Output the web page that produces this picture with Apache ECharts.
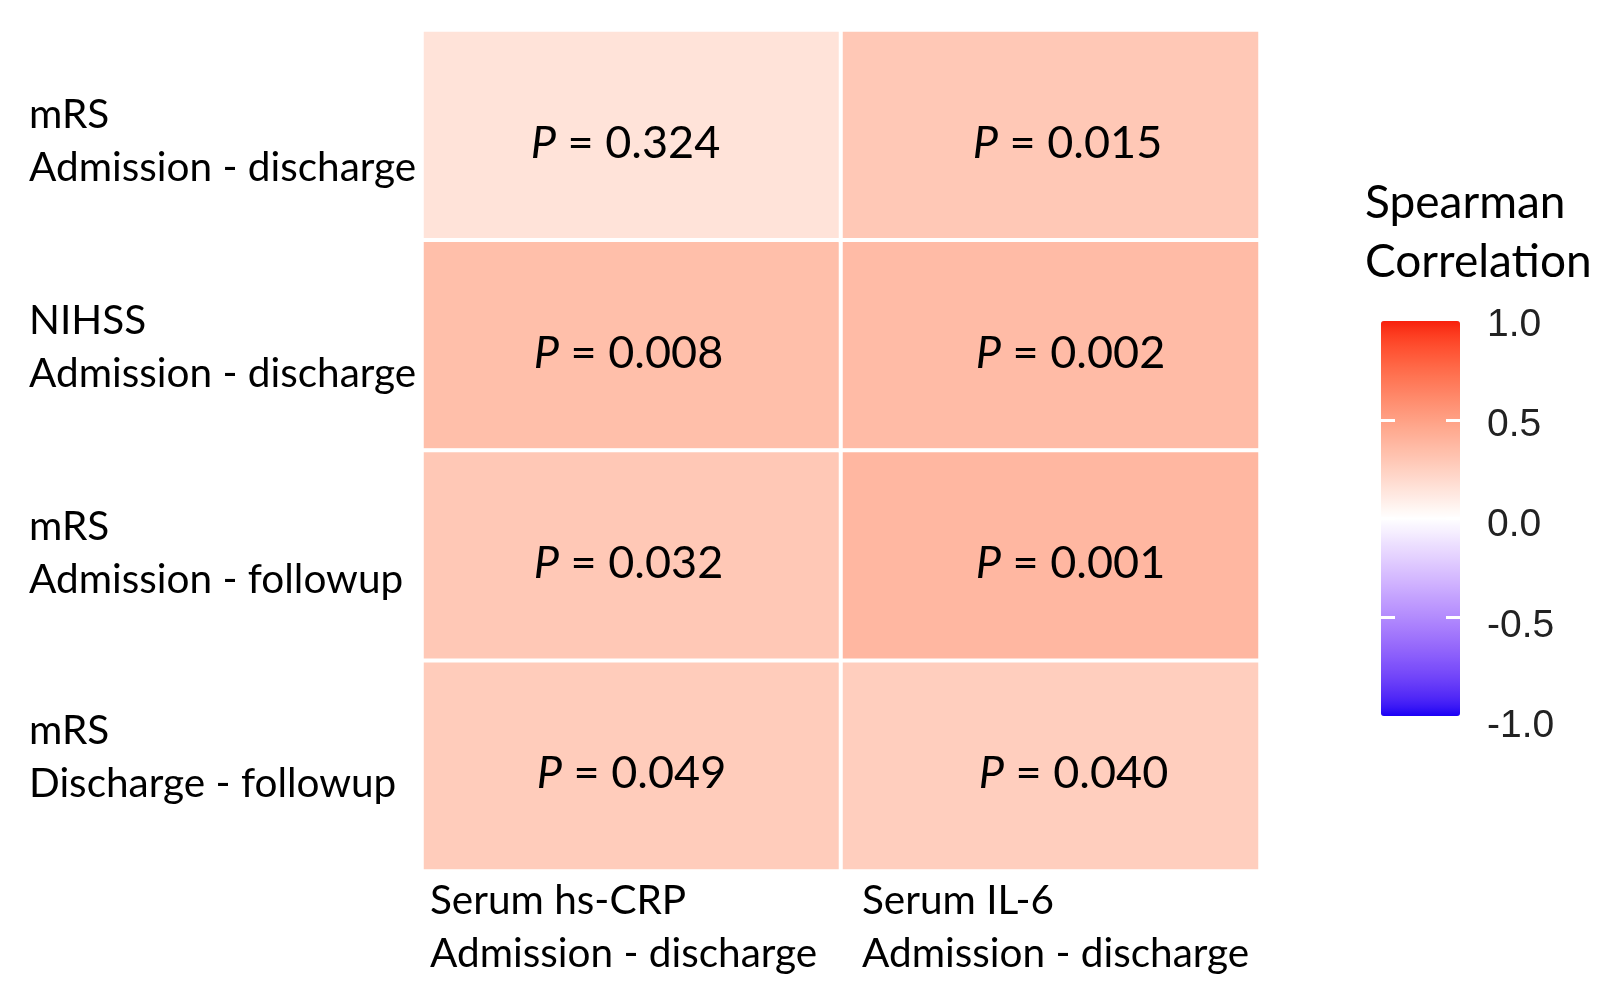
<!DOCTYPE html>
<html><head><meta charset="utf-8">
<script src="https://cdn.jsdelivr.net/npm/echarts@6/dist/echarts.min.js"></script>
<style>html,body{margin:0;padding:0;background:#fff}#c{width:1600px;height:987px}</style>
</head><body><div id="c"></div>
<script>
// ---- data ----
const xCategories = ['Serum hs-CRP\nAdmission - discharge', 'Serum IL-6\nAdmission - discharge'];
const yCategories = ['mRS\nAdmission - discharge', 'NIHSS\nAdmission - discharge', 'mRS\nAdmission - followup', 'mRS\nDischarge - followup'];
const corrHsCRP = [0.15, 0.34, 0.29, 0.27];
const corrIL6 = [0.29, 0.36, 0.38, 0.26];
const pHsCRP = ['0.324', '0.008', '0.032', '0.049'];
const pIL6 = ['0.015', '0.002', '0.001', '0.040'];
const legendTickValues = [-1, -0.5, 0, 0.5, 1];
const legendTitle = 'Spearman\nCorrelation';

// ---- colour scale (Lab interpolation like ggplot2 gradient2) ----
function srgb2lin(c){c/=255;return c<=0.04045?c/12.92:Math.pow((c+0.055)/1.055,2.4);}
function lin2srgb(c){c=Math.max(0,Math.min(1,c));return Math.round(255*(c<=0.0031308?12.92*c:1.055*Math.pow(c,1/2.4)-0.055));}
function hex2lab(h){
  const rgb=[1,3,5].map(i=>srgb2lin(parseInt(h.substr(i,2),16)));
  const [r,g,b]=rgb;
  const X=(0.4124*r+0.3576*g+0.1805*b)/0.95047, Y=0.2126*r+0.7152*g+0.0722*b, Z=(0.0193*r+0.1192*g+0.9505*b)/1.08883;
  const f=t=>t>0.008856?Math.cbrt(t):7.787*t+16/116;
  const fx=f(X),fy=f(Y),fz=f(Z);
  return [116*fy-16,500*(fx-fy),200*(fy-fz)];
}
function lab2hex(lab){
  const [L,a,b]=lab;const fy=(L+16)/116,fx=fy+a/500,fz=fy-b/200;
  const fi=t=>t>0.206893?t*t*t:(t-16/116)/7.787;
  const X=fi(fx)*0.95047,Y=fi(fy),Z=fi(fz)*1.08883;
  const r=3.2406*X-1.5372*Y-0.4986*Z, g=-0.9689*X+1.8758*Y+0.0415*Z, bb=0.0557*X-0.2040*Y+1.0570*Z;
  return '#'+[r,g,bb].map(v=>lin2srgb(v).toString(16).padStart(2,'0')).join('');
}
function ramp(c1,c2,n){
  const A=hex2lab(c1),B=hex2lab(c2),out=[];
  for(let i=0;i<n;i++){const t=i/(n-1);out.push(lab2hex([0,1,2].map(k=>A[k]+(B[k]-A[k])*t)));}
  return out;
}
const lowCol='#1a00f5', midCol='#ffffff', highCol='#f8200c';
const stops = ramp(lowCol,midCol,21).concat(ramp(midCol,highCol,21).slice(1));

// ---- label placement tweaks (styling only) ----
const colOffsets = [-6, 17];
const rowShift = [0, 3, 3, 6];
const yLabelShift = [6, 2, -2, -8];
const FONT = 'Lato';
const yRich = {};
yLabelShift.forEach((d,i)=>{
  yRich['r'+i] = {fontFamily:FONT, fontSize:40.5, lineHeight:53, color:'#000',
    padding: d>=0 ? [2*d,0,0,0] : [0,0,-2*d,0]};
});

// ---- series data ----
const heatData = [];
const pLabels = [pHsCRP, pIL6];
const corrs = [corrHsCRP, corrIL6];
for (let xi=0; xi<xCategories.length; xi++){
  for (let yi=0; yi<yCategories.length; yi++){
    heatData.push({value:[xi, yi, corrs[xi][yi]], p: pLabels[xi][yi],
      label:{offset:[colOffsets[xi]+rowShift[yi], 8]}});
  }
}

const chart = echarts.init(document.getElementById('c'), null, {renderer:'canvas'});
chart.setOption({
  backgroundColor:'#ffffff',
  animation:false,
  title:{
    text: legendTitle, left:1360, top:169, padding:5,
    textStyle:{fontFamily:FONT, fontSize:46, lineHeight:59, fontWeight:'normal', color:'#000'}
  },
  grid:[
    {left:422, top:30, width:838, height:841},
    {left:1381, top:321, width:79, height:395},
    {left:1381, top:325, width:79, height:401}
  ],
  xAxis:[
    {type:'category', gridIndex:0, data:xCategories, axisLine:{show:false}, axisTick:{show:false}, axisLabel:{show:false}, splitLine:{show:false}},
    {type:'category', gridIndex:0, data:xCategories.concat(['']), boundaryGap:false, position:'bottom',
      axisLine:{show:false}, axisTick:{show:false}, splitLine:{show:false},
      axisLabel:{interval:0, align:'left', verticalAlign:'top', margin:3,
        formatter:(v,i)=>v?('{c'+i+'|'+v+'}'):'',
        rich:{
          c0:{fontFamily:FONT, fontSize:40.5, lineHeight:53, color:'#000', padding:[0,0,0,8]},
          c1:{fontFamily:FONT, fontSize:40.5, lineHeight:53, color:'#000', padding:[0,0,0,21]}
        }}},
    {type:'value', gridIndex:1, min:0, max:1, show:false},
    {type:'value', gridIndex:2, min:0, max:1, show:false}
  ],
  yAxis:[
    {type:'category', gridIndex:0, data:yCategories, inverse:true,
      axisLine:{show:false}, axisTick:{show:false}, splitLine:{show:false},
      axisLabel:{align:'left', margin:393, interval:0,
        formatter:(v,i)=>'{r'+i+'|'+v+'}', rich:yRich}},
    {type:'value', gridIndex:1, min:-1, max:1, interval:0.5, position:'left', z:20,
      axisLine:{show:false}, splitLine:{show:false}, axisLabel:{show:false},
      axisTick:{show:true, inside:true, length:79, customValues:[-0.5,0,0.5],
        lineStyle:{color:'#ffffff', width:3, type:[14,51], dashOffset:0}}},
    {type:'value', gridIndex:2, min:-1, max:1, interval:0.5, position:'right',
      axisLine:{show:false}, splitLine:{show:false}, axisTick:{show:false},
      axisLabel:{margin:27, fontFamily:'Liberation Sans', fontSize:39, color:'#222',
        customValues:legendTickValues, formatter:v=>v.toFixed(1)}}
  ],
  visualMap:{
    type:'continuous', min:-1, max:1, seriesIndex:0, calculable:false, hoverLink:false,
    orient:'vertical', left:1381, top:321, padding:0, itemWidth:79, itemHeight:395, z:4,
    text:null, showLabel:false, inRange:{color:stops}
  },
  series:[{
    type:'heatmap', xAxisIndex:0, yAxisIndex:0, data:heatData,
    itemStyle:{borderColor:'#ffffff', borderWidth:4},
    label:{show:true, formatter:p=>'{i|P} = '+p.data.p,
      fontFamily:FONT, fontSize:45, color:'#000',
      rich:{i:{fontFamily:FONT, fontSize:45, fontStyle:'italic', color:'#000'}}},
    emphasis:{disabled:true}
  }]
});
</script>
</body></html>
